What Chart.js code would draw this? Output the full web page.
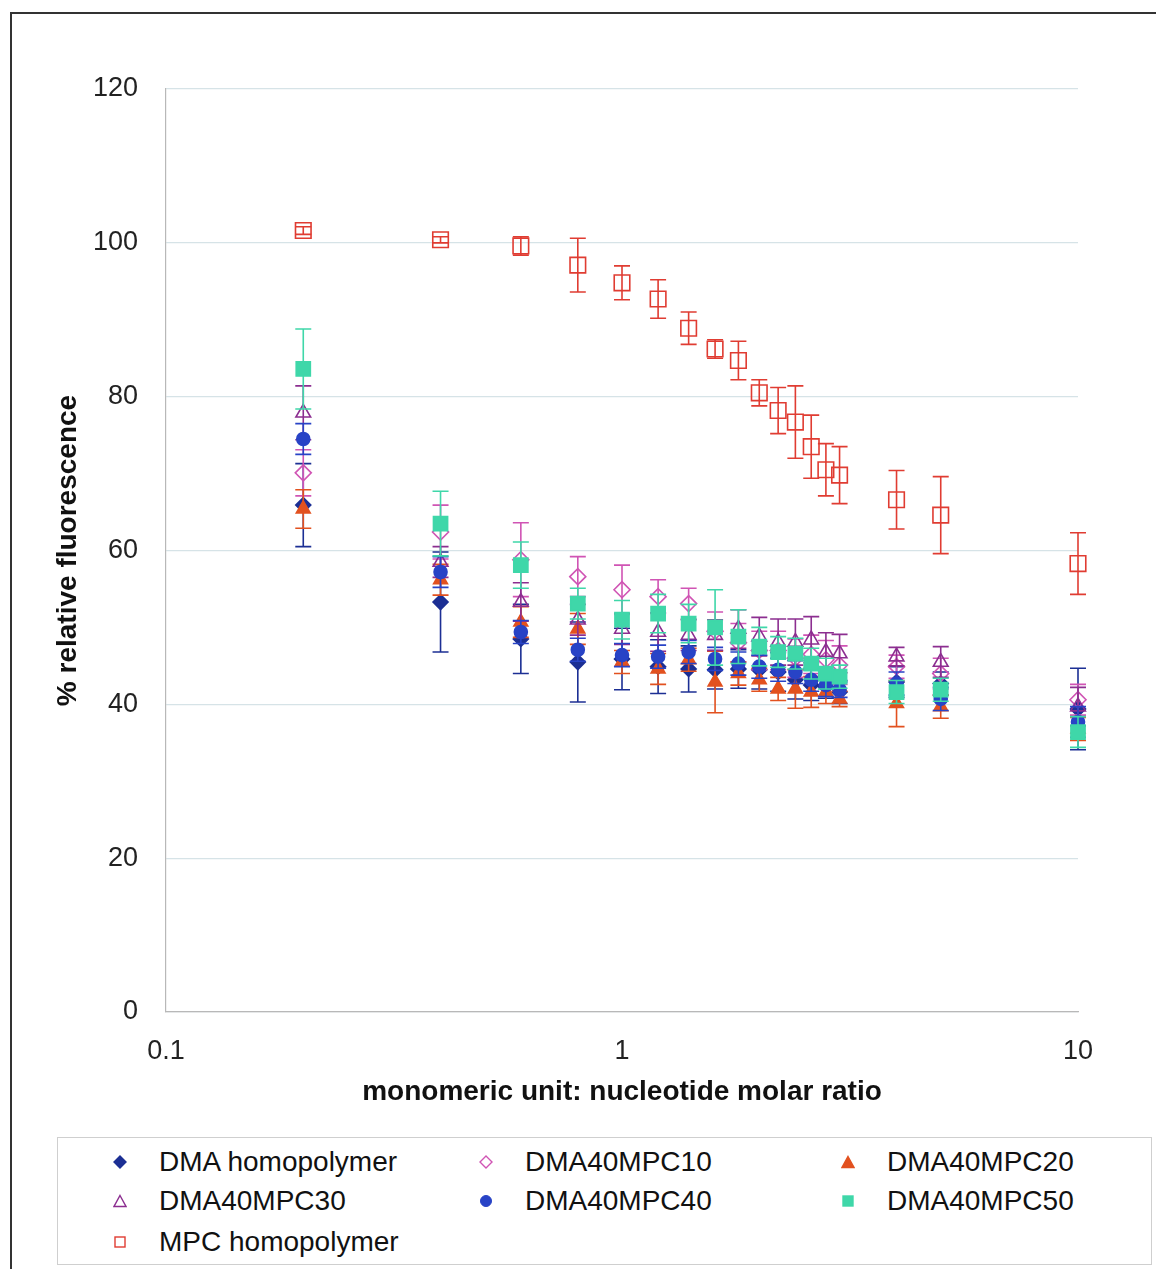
<!DOCTYPE html>
<html>
<head>
<meta charset="utf-8">
<script src="https://cdn.jsdelivr.net/npm/chart.js@4.4.0/dist/chart.umd.min.js"></script>
<style>
  body { margin: 0; background: #fff; font-family: "Liberation Sans", Arial, sans-serif; }
  #contenedor { position: relative; width: 1156px; height: 1269px; overflow: hidden; }
  #grafico { position: absolute; left: 0; top: 0; }
  #marco { position: absolute; left: 10px; top: 12px; width: 1170px; height: 1280px; border: 2px solid #333; pointer-events: none; }
  #leyenda { position: absolute; left: 57px; top: 1137px; width: 1095px; height: 128px; border: 1px solid #cfcfcf; box-sizing: border-box; }
  .item { position: absolute; font-size: 28px; color: #111; white-space: nowrap; line-height: 32px; }
  .item svg { position: absolute; left: -46px; top: 9px; }
</style>
</head>
<body>
<div id="contenedor">
  <canvas id="grafico" width="1156" height="1125"></canvas>
  <div id="leyenda"></div>
  <div id="marco"></div>
</div>
<script>
// razones molares (eje x)
const razones = [0.2, 0.4, 0.6, 0.8, 1, 1.2, 1.4, 1.6, 1.8, 2, 2.2, 2.4, 2.6, 2.8, 3, 4, 5, 10];
const ticksX = [0.1, 1, 10];

const dmaHomo = [65.9, 53.3, 48.5, 45.5, 45.9, 44.9, 44.6, 44.5, 44.6, 44.5, 44.2, 43.2, 42.5, 42.3, 41.6, 42.9, 42.7, 39.4];
const dmaHomoErr = [5.4, 6.5, 4.5, 5.2, 4.0, 3.5, 3.0, 2.5, 2.5, 2.5, 2.5, 2.5, 2.0, 1.5, 1.5, 2.0, 1.5, 5.3];

const mpc10 = [70.1, 62.4, 58.8, 56.6, 54.9, 54.0, 53.1, 49.5, 48.0, 47.0, 47.0, 46.0, 46.5, 45.8, 45.1, 44.9, 44.0, 40.6];
const mpc10Err = [3.0, 3.5, 4.8, 2.6, 3.2, 2.2, 2.0, 2.5, 2.5, 2.5, 2.5, 2.5, 2.5, 2.5, 2.5, 1.5, 2.0, 2.0];

const mpc20 = [65.4, 56.2, 50.7, 49.8, 45.5, 44.6, 45.8, 42.9, 44.0, 43.2, 42.0, 42.0, 41.6, 41.6, 40.7, 40.1, 39.7, 36.8];
const mpc20Err = [2.5, 2.0, 2.0, 2.0, 1.5, 2.0, 1.5, 4.0, 1.5, 1.5, 1.5, 2.5, 2.0, 1.5, 1.0, 3.0, 1.5, 1.5];

const mpc30 = [77.9, 58.5, 53.3, 51.0, 49.8, 49.4, 49.0, 49.0, 49.8, 48.8, 48.1, 48.1, 48.4, 46.8, 46.6, 46.2, 45.5, 39.7];
const mpc30Err = [3.5, 2.0, 2.5, 2.0, 2.0, 2.5, 2.0, 2.0, 2.5, 2.5, 3.0, 3.0, 3.0, 2.5, 2.5, 1.2, 2.0, 2.5];

const mpc40 = [74.5, 57.2, 49.4, 47.1, 46.4, 46.2, 46.8, 45.9, 45.3, 44.9, 44.5, 44.2, 43.2, 42.5, 41.9, 42.7, 40.7, 37.7];
const mpc40Err = [2.0, 2.0, 1.5, 1.5, 1.5, 1.5, 1.5, 1.5, 1.5, 1.5, 1.5, 1.5, 1.5, 1.5, 1.0, 1.5, 1.5, 2.0];

const mpc50 = [83.6, 63.5, 58.1, 53.1, 51.0, 51.8, 50.5, 50.0, 48.8, 47.5, 46.8, 46.6, 45.3, 44.0, 43.6, 41.6, 41.9, 36.4];
const mpc50Err = [5.2, 4.2, 3.0, 2.0, 2.5, 2.5, 2.5, 4.9, 3.5, 2.5, 2.0, 2.0, 2.0, 2.0, 1.5, 1.5, 1.5, 2.0];

const mpcHomo = [101.6, 100.4, 99.6, 97.1, 94.8, 92.7, 88.9, 86.2, 84.7, 80.5, 78.2, 76.7, 73.5, 70.5, 69.8, 66.6, 64.6, 58.3];
const mpcHomoErr = [0.5, 0.4, 1.2, 3.5, 2.2, 2.5, 2.1, 1.2, 2.5, 1.7, 3.0, 4.7, 4.1, 3.4, 3.7, 3.8, 5.0, 4.0];

const nombres = ["DMA homopolymer", "DMA40MPC10", "DMA40MPC20", "DMA40MPC30", "DMA40MPC40", "DMA40MPC50", "MPC homopolymer"];

function puntos(valores) {
  return razones.map((r, i) => ({ x: r, y: valores[i] }));
}

const series = [
  { valores: dmaHomo, err: dmaHomoErr, color: "#1c2f94", estilo: "rectRot", relleno: true, radio: 7.5 },
  { valores: mpc10, err: mpc10Err, color: "#d054b4", estilo: "rectRot", relleno: false, radio: 8 },
  { valores: mpc20, err: mpc20Err, color: "#e2511f", estilo: "triangle", relleno: true, radio: 8 },
  { valores: mpc30, err: mpc30Err, color: "#8c2e90", estilo: "triangle", relleno: false, radio: 8.5 },
  { valores: mpc40, err: mpc40Err, color: "#2843c6", estilo: "circle", relleno: true, radio: 6.5 },
  { valores: mpc50, err: mpc50Err, color: "#3fd7a9", estilo: "rect", relleno: true, radio: 10 },
  { valores: mpcHomo, err: mpcHomoErr, color: "#e03c32", estilo: "rect", relleno: false, radio: 11 },
];

const datasets = series.map((s, i) => ({
  label: nombres[i],
  data: puntos(s.valores),
  errores: s.err,
  showLine: false,
  clip: false,
  pointStyle: s.estilo,
  pointRadius: s.radio,
  pointBorderWidth: 1.6,
  borderColor: s.color,
  backgroundColor: s.relleno ? s.color : "rgba(0,0,0,0)",
  order: series.length - i,
}));

// barras de error dibujadas con cada serie
const barrasError = {
  id: "barrasError",
  beforeDatasetDraw(chart, args) {
    const ds = chart.data.datasets[args.index];
    if (!ds.errores) return;
    const ctx = chart.ctx;
    const y = chart.scales.y;
    ctx.save();
    ctx.strokeStyle = ds.borderColor;
    ctx.lineWidth = 1.6;
    args.meta.data.forEach((pt, j) => {
      const v = ds.data[j].y;
      const e = ds.errores[j];
      const arriba = y.getPixelForValue(v + e);
      const abajo = y.getPixelForValue(v - e);
      ctx.beginPath();
      ctx.moveTo(pt.x, arriba);
      ctx.lineTo(pt.x, abajo);
      ctx.moveTo(pt.x - 8, arriba);
      ctx.lineTo(pt.x + 8, arriba);
      ctx.moveTo(pt.x - 8, abajo);
      ctx.lineTo(pt.x + 8, abajo);
      ctx.stroke();
    });
    ctx.restore();
  },
};

const config = {
  type: "scatter",
  data: { datasets },
  options: {
    responsive: false,
    animation: false,
    layout: { padding: { left: 47, top: 89, right: 78, bottom: 12 } },
    plugins: { legend: { display: false }, tooltip: { enabled: false } },
    scales: {
      x: {
        type: "logarithmic",
        min: 0.1,
        max: 10,
        afterBuildTicks: (escala) => {
          escala.ticks = ticksX.map((v) => ({ value: v }));
        },
        afterFit: (escala) => {
          escala.height = 101;
        },
        ticks: {
          callback: (v) => String(v),
          font: { family: "Liberation Sans", size: 27 },
          color: "#222",
          padding: 15,
          autoSkip: false,
          maxRotation: 0,
        },
        grid: { display: false },
        border: { display: true, color: "#b8b8b8", width: 1.2 },
        title: {
          display: true,
          text: "monomeric unit: nucleotide molar ratio",
          font: { family: "Liberation Sans", size: 28, weight: "bold" },
          color: "#111",
        },
      },
      y: {
        min: 0,
        max: 120,
        afterFit: (escala) => {
          escala.width = 119;
        },
        ticks: {
          stepSize: 20,
          font: { family: "Liberation Sans", size: 27 },
          color: "#222",
          padding: 28,
        },
        grid: { color: "#d6e3e7", lineWidth: 1.3, drawTicks: false },
        border: { display: true, color: "#b8b8b8", width: 1.2 },
        title: {
          display: true,
          text: "% relative fluorescence",
          font: { family: "Liberation Sans", size: 28, weight: "bold" },
          color: "#111",
        },
      },
    },
  },
  plugins: [barrasError],
};

const miGrafico = new Chart(document.querySelector("#grafico"), config);

// leyenda en tres columnas
const leyenda = document.querySelector("#leyenda");
const columnasX = [101, 467, 829];
const filasY = [8, 47, 88];

function marcador(s) {
  const c = s.color;
  const f = s.relleno ? c : "none";
  let forma = "";
  if (s.estilo === "rectRot") forma = `<polygon points="7,1 13,7 7,13 1,7" fill="${f}" stroke="${c}" stroke-width="1.4"/>`;
  if (s.estilo === "triangle") forma = `<polygon points="7,1.5 13,12.5 1,12.5" fill="${f}" stroke="${c}" stroke-width="1.4"/>`;
  if (s.estilo === "circle") forma = `<circle cx="7" cy="7" r="5.5" fill="${f}" stroke="${c}"/>`;
  if (s.estilo === "rect") forma = `<rect x="2" y="2" width="10" height="10" fill="${f}" stroke="${c}" stroke-width="1.4"/>`;
  return `<svg width="14" height="14" viewBox="0 0 14 14">${forma}</svg>`;
}

series.forEach((s, i) => {
  const el = document.createElement("div");
  el.className = "item";
  el.style.left = columnasX[i % 3] + "px";
  el.style.top = filasY[Math.floor(i / 3)] + "px";
  el.innerHTML = marcador(s) + nombres[i];
  leyenda.appendChild(el);
});
</script>
</body>
</html>
